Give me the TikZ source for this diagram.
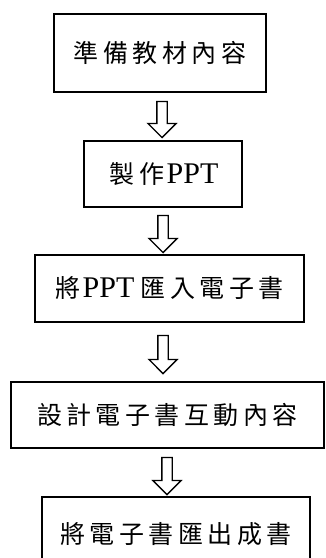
\documentclass[tikz,border=0pt]{standalone}
\usepackage{fontspec}
\setmainfont{Liberation Serif}
\newfontfamily\cjk{Noto Sans CJK TC}
\usetikzlibrary{shapes.arrows}
\newcommand\zi[1]{\makebox[29.5pt]{\cjk #1}}
\newcommand\ppt{{\fontsize{30}{32}\selectfont PPT}}
\tikzset{
  stepbox/.style={draw=black, line width=1.7pt, fill=white, inner sep=0pt,
    font=\fontsize{25}{28}\selectfont},
  blockarrow/.style={draw=black, line width=1.3pt, fill=white, shape=single arrow,
    shape border rotate=270, inner sep=4.5pt, single arrow head extend=9pt,
    single arrow tip angle=90, minimum width=27pt}
}
\begin{document}
\begin{tikzpicture}[x=1pt,y=1pt]
\useasboundingbox (0,0) rectangle (326,-558);
\fill[white] (0,0) rectangle (326,-558);
\node[stepbox, minimum width=212pt, minimum height=78pt] (b1) at (160,-53)
  {\raisebox{-4pt}{\zi{準}\zi{備}\zi{教}\zi{材}\zi{內}\zi{容}}};
\node[stepbox, minimum width=158pt, minimum height=66pt] (b2) at (163,-174)
  {\zi{製}\zi{作}\ppt};
\node[stepbox, minimum width=269pt, minimum height=67pt] (b3) at (169.5,-288.5)
  {\raisebox{-3pt}{\zi{將}\ppt\hspace{4pt}\zi{匯}\zi{入}\zi{電}\zi{子}\zi{書}}};
\node[stepbox, minimum width=313pt, minimum height=66pt] (b4) at (167.5,-415)
  {\raisebox{-4pt}{\zi{設}\zi{計}\zi{電}\zi{子}\zi{書}\zi{互}\zi{動}\zi{內}\zi{容}}};
\node[stepbox, minimum width=268pt, minimum height=74pt] (b5) at (176,-534)
  {\zi{將}\zi{電}\zi{子}\zi{書}\zi{匯}\zi{出}\zi{成}\zi{書}};
\node[blockarrow, minimum height=36pt] (a1) at (162,-117) {};
\node[blockarrow, minimum height=37pt] (a2) at (163,-231.5) {};
\node[blockarrow, minimum height=38pt] (a3) at (163,-352) {};
\node[blockarrow, minimum height=37pt] (a4) at (167,-473.5) {};
\end{tikzpicture}
\end{document}
